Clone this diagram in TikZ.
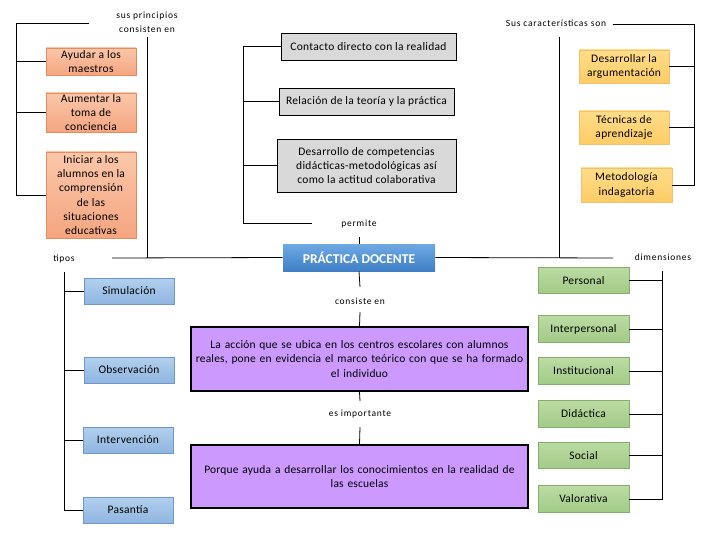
\documentclass[tikz,border=0pt]{standalone}
\usepackage{fontspec}
\setmainfont{Carlito}
\newfontfamily\boxfont[LetterSpace=2.5]{Carlito}
\newfontfamily\pfont[LetterSpace=1.5]{Carlito}
\newfontfamily\lblfont[LetterSpace=8]{Carlito}
\definecolor{orT}{HTML}{FBC7AA}
\definecolor{orB}{HTML}{F4A57F}
\definecolor{orD}{HTML}{E38C60}
\definecolor{yeT}{HTML}{FFDD88}
\definecolor{yeB}{HTML}{FFCC66}
\definecolor{yeD}{HTML}{F2C070}
\definecolor{blT}{HTML}{B3D0EE}
\definecolor{blB}{HTML}{8FB5E0}
\definecolor{blD}{HTML}{6F98C8}
\definecolor{grT}{HTML}{BBDBA3}
\definecolor{grB}{HTML}{A2CA86}
\definecolor{grD}{HTML}{86AE6C}
\definecolor{gyF}{HTML}{D9D9D9}
\definecolor{puF}{HTML}{CC99FF}
\definecolor{pdT}{HTML}{6FAAE4}
\definecolor{pdB}{HTML}{3F7EC6}
\begin{document}
\begin{tikzpicture}[x=1pt,y=-1pt,line width=0.8pt,
  box/.style={inner sep=1pt,align=center,font=\boxfont\fontsize{11.5}{14.2}\selectfont},
  obox/.style={box,draw=orD,top color=orT,bottom color=orB,minimum width=90pt},
  gbox/.style={box,draw=black,fill=gyF},
  ybox/.style={box,draw=yeD,top color=yeT,bottom color=yeB},
  bbox/.style={box,draw=blD,top color=blT,bottom color=blB,minimum width=90pt,minimum height=26pt},
  vbox/.style={box,draw=grD,top color=grT,bottom color=grB,minimum width=91pt,minimum height=26.5pt},
  pbox/.style={inner sep=1pt,align=center,font=\pfont\fontsize{11.5}{14.5}\selectfont,
    draw=black,line width=2pt,fill=puF,minimum width=337pt,text width=333pt},
  lbl/.style={inner sep=1pt,align=center,font=\lblfont\fontsize{9.5}{14}\selectfont}
]
\useasboundingbox (0,0) rectangle (720,540);

% central node
\node[draw=none,top color=pdT,bottom color=pdB,minimum width=152pt,minimum height=27pt,inner sep=0pt,
  text=white,font=\bfseries\fontsize{13.5}{15}\selectfont] (pd) at (359,257.5) {PRÁCTICA DOCENTE};

% principios (orange)
\node[obox,minimum height=27pt] (o1) at (91,61.5) {Ayudar a los\\maestros};
\node[obox,minimum height=39pt] (o2) at (91,112.5) {Aumentar la\\toma de\\conciencia};
\node[obox,minimum height=86pt] (o3) at (91,195) {Iniciar a los\\alumnos en la\\comprensión\\de las\\situaciones\\educativas};
\node[lbl] (lp) at (147,22.5) {sus principios\\consisten en};
\coordinate (pT) at (89,23);
\coordinate (pL) at (16,23);
\coordinate (spT) at (147,37);
\draw (pT) -- (pL) |- (o3.west);
\draw (o1.west) -- (o1.west -| pL);
\draw (o2.west) -- (o2.west -| pL);
\draw (spT) -- (spT |- pd.west);

% gray boxes
\node[gbox,minimum width=175pt,minimum height=27pt] (g1) at (368.5,46.5) {Contacto directo con la realidad};
\node[gbox,minimum width=175pt,minimum height=27pt] (g2) at (366.5,101.5) {Relación de la teoría y la práctica};
\node[gbox,minimum width=179pt,minimum height=53pt] (g3) at (366.5,165.5) {Desarrollo de competencias\\didácticas-metodológicas así\\como la actitud colaborativa};
\node[lbl] (lpe) at (359,224) {permite};
\coordinate (gL) at (243,47);
\coordinate (gB) at (312,223);
\coordinate (pm) at (359,237);
\draw (g1.west) -- (g1.west -| gL) |- (gB);
\draw (g2.west) -- (g2.west -| gL);
\draw (g3.west) -- (g3.west -| gL);
\draw (pm) -- (pd.north);

% caracteristicas (yellow)
\node[ybox,minimum width=90pt,minimum height=33pt] (y1) at (624,66.5) {Desarrollar la\\argumentación};
\node[ybox,minimum width=90pt,minimum height=33pt] (y2) at (624,127.5) {Técnicas de\\aprendizaje};
\node[ybox,minimum width=91pt,minimum height=34pt] (y3) at (626.5,185) {Metodología\\indagatoria};
\node[lbl] (lc) at (556,23) {Sus características son};
\coordinate (cT) at (613,24);
\coordinate (cR) at (694,24);
\coordinate (scT) at (559,37);
\draw (cT) -- (cR) |- (y3.east);
\draw (y1.east) -- (y1.east -| cR);
\draw (y2.east) -- (y2.east -| cR);

% main horizontal line
\node[lbl] (lt) at (64,259) {tipos};
\node[lbl] (ld) at (663,257) {dimensiones};
\coordinate (hL) at (112,258);
\coordinate (hR) at (613,258);
\draw (hL) -- (pd.west);
\draw (pd.east) -- (hR);
\draw (scT) -- (scT |- pd.east);

% tipos (blue)
\node[bbox] (b1) at (129,291) {Simulación};
\node[bbox] (b2) at (129,370) {Observación};
\node[bbox] (b3) at (128,440) {Intervención};
\node[bbox] (b4) at (128,510) {Pasantía};
\coordinate (tT) at (64,272);
\draw (tT) |- (b4.west);
\draw (b1.west) -- (b1.west -| tT);
\draw (b2.west) -- (b2.west -| tT);
\draw (b3.west) -- (b3.west -| tT);

% dimensiones (green)
\node[vbox] (v1) at (583.5,280.5) {Personal};
\node[vbox] (v2) at (583.5,329) {Interpersonal};
\node[vbox] (v3) at (583.5,371) {Institucional};
\node[vbox] (v4) at (583.5,414) {Didáctica};
\node[vbox] (v5) at (583.5,455.5) {Social};
\node[vbox] (v6) at (583.5,499) {Valorativa};
\coordinate (dT) at (662,271);
\draw (dT) |- (v6.east);
\draw (v1.east) -- (v1.east -| dT);
\draw (v2.east) -- (v2.east -| dT);
\draw (v3.east) -- (v3.east -| dT);
\draw (v4.east) -- (v4.east -| dT);
\draw (v5.east) -- (v5.east -| dT);

% center column (purple)
\node[pbox,minimum height=64pt] (p1) at (359.5,359) {La acción que se ubica en los centros escolares con alumnos\\reales, pone en evidencia el marco teórico con que se ha formado\\el individuo};
\node[pbox,minimum height=63pt] (p2) at (359.5,476.5) {Porque ayuda a desarrollar los conocimientos en la realidad de\\las escuelas};
\node[lbl] (lce) at (360,301) {consiste en};
\node[lbl] (lei) at (360,414) {es importante};
\coordinate (c1) at (360,287);
\coordinate (c2) at (360,312);
\coordinate (c3) at (360,401);
\coordinate (c4) at (360,427);
\draw (pd.south) -- (c1);
\draw (c2) -- (p1.north);
\draw (p1.south) -- (c3);
\draw (c4) -- (p2.north);
\end{tikzpicture}
\end{document}
